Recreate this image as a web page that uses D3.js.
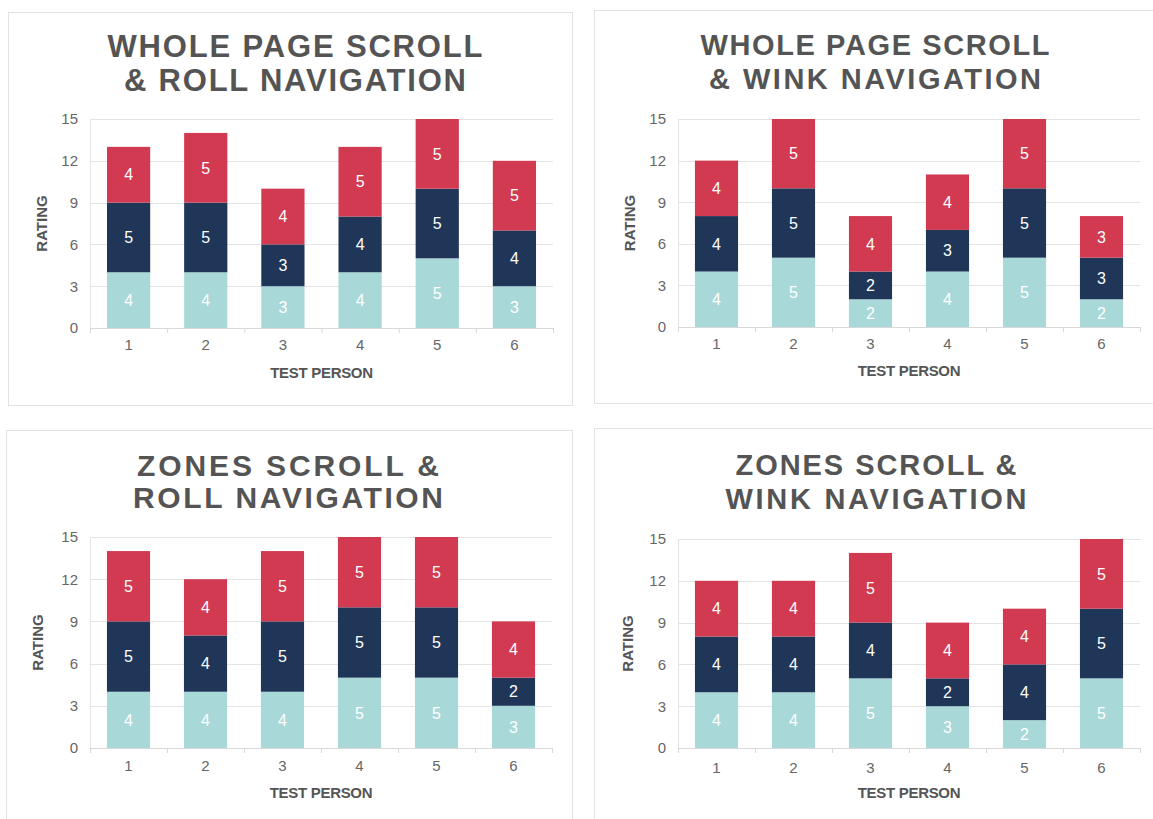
<!DOCTYPE html>
<html>
<head>
<meta charset="utf-8">
<script src="https://cdn.jsdelivr.net/npm/d3@7"></script>
<style>
  html, body { margin: 0; padding: 0; background: #fff; }
  svg { display: block; }
</style>
</head>
<body>
<svg id="chart" width="1153" height="819"></svg>
<script>
// Test persons on the x axis and rating ticks on the y axis
const testPersons = ["1", "2", "3", "4", "5", "6"];
const ratingTicks = [0, 3, 6, 9, 12, 15];
const seriesKeys = ["base", "middle", "top"];
const seriesColors = ["#a8d8d8", "#1f3659", "#d13a51"];

// Whole page scroll & roll navigation
const wholeRollBase   = [4, 4, 3, 4, 5, 3];
const wholeRollMiddle = [5, 5, 3, 4, 5, 4];
const wholeRollTop    = [4, 5, 4, 5, 5, 5];

// Whole page scroll & wink navigation
const wholeWinkBase   = [4, 5, 2, 4, 5, 2];
const wholeWinkMiddle = [4, 5, 2, 3, 5, 3];
const wholeWinkTop    = [4, 5, 4, 4, 5, 3];

// Zones scroll & roll navigation
const zonesRollBase   = [4, 4, 4, 5, 5, 3];
const zonesRollMiddle = [5, 4, 5, 5, 5, 2];
const zonesRollTop    = [5, 4, 5, 5, 5, 4];

// Zones scroll & wink navigation
const zonesWinkBase   = [4, 4, 5, 3, 2, 5];
const zonesWinkMiddle = [4, 4, 4, 2, 4, 5];
const zonesWinkTop    = [4, 4, 5, 4, 4, 5];

const titles = [
  ["WHOLE PAGE SCROLL", "& ROLL NAVIGATION"],
  ["WHOLE PAGE SCROLL", "& WINK NAVIGATION"],
  ["ZONES SCROLL &", "ROLL NAVIGATION"],
  ["ZONES SCROLL &", "WINK NAVIGATION"]
];

const panelSeries = [
  [wholeRollBase, wholeRollMiddle, wholeRollTop],
  [wholeWinkBase, wholeWinkMiddle, wholeWinkTop],
  [zonesRollBase, zonesRollMiddle, zonesRollTop],
  [zonesWinkBase, zonesWinkMiddle, zonesWinkTop]
];

// Panel frames, plot areas and title placement
const layouts = [
  { box: [8, 12, 564, 393],  plot: [90, 119, 553, 328], titleX: 295, titleY: [57, 91], titleSize: 31, titleW: [375, 342], ratingX: 42, xLabY: 350, xTitleY: 378 },
  { box: [594, 10, 570, 393], plot: [678, 119, 1140, 327], titleX: 875, titleY: [55, 89], titleSize: 29, titleW: [349, 332], ratingX: 630, xLabY: 349, xTitleY: 376 },
  { box: [6, 430, 566, 400],  plot: [90, 537, 552, 748], titleX: 288, titleY: [476, 508], titleSize: 30, titleW: [302, 310], ratingX: 38, xLabY: 771, xTitleY: 798 },
  { box: [594, 428, 570, 402], plot: [678, 539, 1140, 748], titleX: 876, titleY: [475, 509], titleSize: 29, titleW: [281, 301], ratingX: 628, xLabY: 773, xTitleY: 798 }
];

const svg = d3.select("#chart");
const textGray = "#555555";

layouts.forEach((L, i) => {
  const g = svg.append("g");
  const [bx, by, bw, bh] = L.box;
  g.append("rect")
    .attr("x", bx + 0.5).attr("y", by + 0.5)
    .attr("width", bw).attr("height", bh)
    .attr("fill", "#fff").attr("stroke", "#e2e2e2").attr("stroke-width", 1);

  // title
  titles[i].forEach((line, k) => {
    g.append("text")
      .attr("x", L.titleX).attr("y", L.titleY[k])
      .attr("text-anchor", "middle")
      .attr("font-family", "'Liberation Sans', Arial, sans-serif")
      .attr("font-weight", "bold")
      .attr("font-size", L.titleSize)
      .attr("fill", "#545454")
      .attr("textLength", L.titleW[k])
      .attr("lengthAdjust", "spacing")
      .text(line);
  });

  const [x0, yTop, x1, yBottom] = L.plot;
  const x = d3.scaleBand().domain(testPersons).range([x0, x1]).paddingInner(0.44).paddingOuter(0.22);
  const y = d3.scaleLinear().domain([0, 15]).range([yBottom, yTop]);

  // gridlines
  g.append("g")
    .selectAll("line")
    .data(ratingTicks.filter(t => t > 0))
    .join("line")
    .attr("x1", x0).attr("x2", x1)
    .attr("y1", d => Math.round(y(d)) + 0.5).attr("y2", d => Math.round(y(d)) + 0.5)
    .attr("stroke", "#e4e4e4");

  // left axis line
  g.append("line")
    .attr("x1", x0 + 0.5).attr("x2", x0 + 0.5)
    .attr("y1", yTop).attr("y2", yBottom)
    .attr("stroke", "#e4e4e4");

  // y axis labels
  const yAxis = d3.axisLeft(y).tickValues(ratingTicks).tickSize(0).tickPadding(12);
  const ya = g.append("g").attr("transform", `translate(${x0},0)`).call(yAxis);
  ya.select(".domain").remove();
  ya.selectAll("text")
    .attr("font-family", "'Liberation Sans', Arial, sans-serif")
    .attr("font-size", 15).attr("fill", "#666");

  // stacked bars
  const rows = testPersons.map((p, j) => {
    const row = { person: p };
    seriesKeys.forEach((key, s) => { row[key] = panelSeries[i][s][j]; });
    return row;
  });
  const stacked = d3.stack().keys(seriesKeys)(rows);

  const layer = g.append("g").selectAll("g")
    .data(stacked)
    .join("g")
    .attr("fill", (d, s) => seriesColors[s]);

  layer.selectAll("rect")
    .data(d => d)
    .join("rect")
    .attr("x", d => x(d.data.person))
    .attr("width", x.bandwidth())
    .attr("y", d => y(d[1]))
    .attr("height", d => y(d[0]) - y(d[1]));

  layer.selectAll("text")
    .data(d => d)
    .join("text")
    .attr("x", d => x(d.data.person) + x.bandwidth() / 2)
    .attr("y", d => (y(d[0]) + y(d[1])) / 2)
    .attr("dy", "0.36em")
    .attr("text-anchor", "middle")
    .attr("font-family", "'Liberation Sans', Arial, sans-serif")
    .attr("font-size", 16)
    .attr("fill", "#ffffff")
    .text(d => d[1] - d[0]);

  // bottom axis with ticks between bands
  g.append("line")
    .attr("x1", x0).attr("x2", x1)
    .attr("y1", yBottom + 0.5).attr("y2", yBottom + 0.5)
    .attr("stroke", "#d8d8d8");
  const step = x.step();
  g.append("g").selectAll("line")
    .data(d3.range(testPersons.length + 1))
    .join("line")
    .attr("x1", k => x0 + k * step + 0.5).attr("x2", k => x0 + k * step + 0.5)
    .attr("y1", yBottom).attr("y2", yBottom + 5)
    .attr("stroke", "#d8d8d8");

  g.append("g").selectAll("text")
    .data(testPersons)
    .join("text")
    .attr("x", d => x(d) + x.bandwidth() / 2)
    .attr("y", L.xLabY)
    .attr("text-anchor", "middle")
    .attr("font-family", "'Liberation Sans', Arial, sans-serif")
    .attr("font-size", 15).attr("fill", "#666")
    .text(d => d);

  // axis titles
  g.append("text")
    .attr("x", (x0 + x1) / 2).attr("y", L.xTitleY)
    .attr("text-anchor", "middle")
    .attr("font-family", "'Liberation Sans', Arial, sans-serif")
    .attr("font-weight", "bold").attr("font-size", 15)
    .attr("letter-spacing", -0.3)
    .attr("fill", textGray)
    .text("TEST PERSON");

  g.append("text")
    .attr("transform", `translate(${L.ratingX + 5},${(yTop + yBottom) / 2}) rotate(-90)`)
    .attr("text-anchor", "middle")
    .attr("font-family", "'Liberation Sans', Arial, sans-serif")
    .attr("font-weight", "bold").attr("font-size", 15)
    .attr("fill", textGray)
    .text("RATING");
});
</script>
</body>
</html>
